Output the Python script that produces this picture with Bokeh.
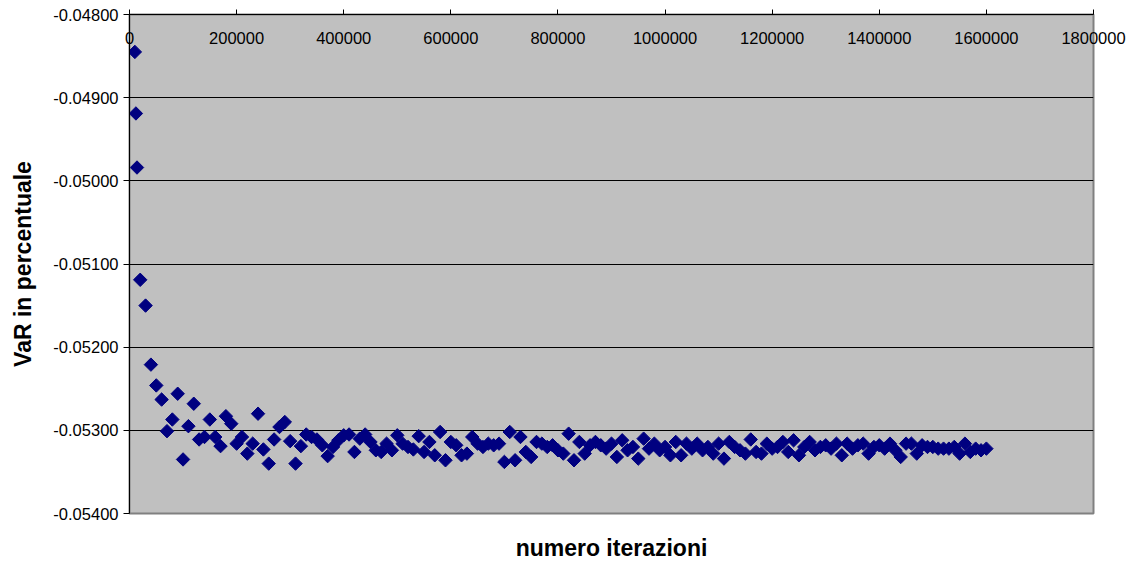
import numpy as np
from bokeh.plotting import figure
from bokeh.models import (LinearAxis, FixedTicker, NumeralTickFormatter, Range1d)
from bokeh.embed import file_html
from bokeh.resources import INLINE

# ---- data ----
iterations = [10000, 12000, 14000] + list(range(20000, 1600001, 10000))
var_pct = [
    -0.04845, -0.04919, -0.04984,
    # 20000 .. 350000
    -0.05119, -0.05150, -0.05221, -0.05246, -0.05263, -0.05301, -0.05287, -0.05256,
    -0.05335, -0.05295, -0.05268, -0.05311, -0.05308, -0.05287, -0.05308, -0.05319,
    -0.05283, -0.05292, -0.05316, -0.05308, -0.05328, -0.05316, -0.05280, -0.05323,
    -0.05340, -0.05311, -0.05296, -0.05290, -0.05313, -0.05340, -0.05319, -0.05305,
    -0.05308, -0.05311,
    # 360000 .. 560000
    -0.05318, -0.05331, -0.05320, -0.05312, -0.05306, -0.05305, -0.05326, -0.05310,
    -0.05305, -0.05314, -0.05324, -0.05326, -0.05316, -0.05324, -0.05306, -0.05316,
    -0.05320, -0.05323, -0.05307, -0.05326, -0.05314,
    # 570000 .. 760000
    -0.05330, -0.05302, -0.05336, -0.05314, -0.05318, -0.05330, -0.05328, -0.05308,
    -0.05316, -0.05320, -0.05316, -0.05318, -0.05316, -0.05338, -0.05302, -0.05336,
    -0.05308, -0.05326, -0.05332, -0.05314,
    # 770000 .. 970000
    -0.05316, -0.05320, -0.05318, -0.05324, -0.05328, -0.05304, -0.05336, -0.05314,
    -0.05328, -0.05318, -0.05314, -0.05318, -0.05322, -0.05316, -0.05332, -0.05312,
    -0.05324, -0.05320, -0.05334, -0.05310, -0.05322,
    # 980000 .. 1180000
    -0.05316, -0.05324, -0.05320, -0.05330, -0.05314, -0.05330, -0.05316, -0.05322,
    -0.05316, -0.05324, -0.05320, -0.05328, -0.05316, -0.05334, -0.05314, -0.05320,
    -0.05324, -0.05328, -0.05311, -0.05326, -0.05328,
    # 1190000 .. 1390000
    -0.05316, -0.05322, -0.05320, -0.05314, -0.05326, -0.05312, -0.05330, -0.05320,
    -0.05314, -0.05324, -0.05320, -0.05318, -0.05322, -0.05316, -0.05330, -0.05316,
    -0.05322, -0.05318, -0.05316, -0.05328, -0.05320,
    # 1400000 .. 1600000
    -0.05318, -0.05322, -0.05316, -0.05324, -0.05332, -0.05316, -0.05316, -0.05328,
    -0.05318, -0.05320, -0.05320, -0.05322, -0.05322, -0.05322, -0.05320, -0.05328,
    -0.05316, -0.05326, -0.05322, -0.05324, -0.05322,
]
x_ticks = [0, 200000, 400000, 600000, 800000, 1000000, 1200000, 1400000, 1600000, 1800000]
y_ticks = [-0.054, -0.053, -0.052, -0.051, -0.050, -0.049, -0.048]
x_title = "numero iterazioni"
y_title = "VaR in percentuale"

FONT = "Liberation Sans"

p = figure(width=1135, height=563, output_backend="svg", toolbar_location=None,
           x_range=Range1d(0, 1800000), y_range=Range1d(-0.054, -0.048),
           x_axis_location=None, y_axis_location=None,
           min_border_left=129, min_border_right=42, min_border_top=14, min_border_bottom=50)
p.background_fill_color = "#C0C0C0"
p.border_fill_color = "white"
p.outline_line_color = "#808080"
p.outline_line_width = 2

# y axis
yax = LinearAxis(ticker=FixedTicker(ticks=y_ticks),
                 formatter=NumeralTickFormatter(format="0.00000"),
                 axis_label=y_title)
yax.axis_line_color = "black"
yax.major_tick_line_color = "black"
yax.major_tick_out = 6
yax.major_tick_in = 0
yax.minor_tick_line_color = None
yax.major_label_text_font = FONT
yax.major_label_text_font_size = "16.5px"
yax.major_label_text_color = "black"
yax.major_label_standoff = 5
yax.axis_label_text_font = FONT
yax.axis_label_text_font_style = "bold"
yax.axis_label_text_font_size = "23px"
yax.axis_label_text_color = "black"
yax.axis_label_standoff = 14
p.add_layout(yax, "left")

# x axis on top, labels inside the plot area
xax = LinearAxis(ticker=FixedTicker(ticks=x_ticks),
                 formatter=NumeralTickFormatter(format="0"))
xax.axis_line_color = "black"
xax.major_tick_line_color = "black"
xax.major_tick_out = 5
xax.major_tick_in = 0
xax.minor_tick_line_color = None
xax.major_label_text_font = FONT
xax.major_label_text_font_size = "16.5px"
xax.major_label_text_color = "black"
xax.major_label_standoff = -34
p.add_layout(xax, "above")

# bottom title (axis without ticks)
bax = LinearAxis(ticker=FixedTicker(ticks=[]), axis_label=x_title)
bax.axis_line_color = None
bax.major_tick_line_color = None
bax.minor_tick_line_color = None
bax.axis_label_text_font = FONT
bax.axis_label_text_font_style = "bold"
bax.axis_label_text_font_size = "23px"
bax.axis_label_text_color = "black"
bax.axis_label_standoff = 21
p.add_layout(bax, "below")

p.xgrid.visible = False
p.ygrid.ticker = FixedTicker(ticks=y_ticks[1:])
p.ygrid.grid_line_color = "black"
p.ygrid.grid_line_width = 1

p.scatter(iterations, var_pct, marker="square", angle=np.pi / 4, size=9.5,
          fill_color="#000080", line_color="#000080")

open("out.html", "w").write(file_html(p, INLINE))
